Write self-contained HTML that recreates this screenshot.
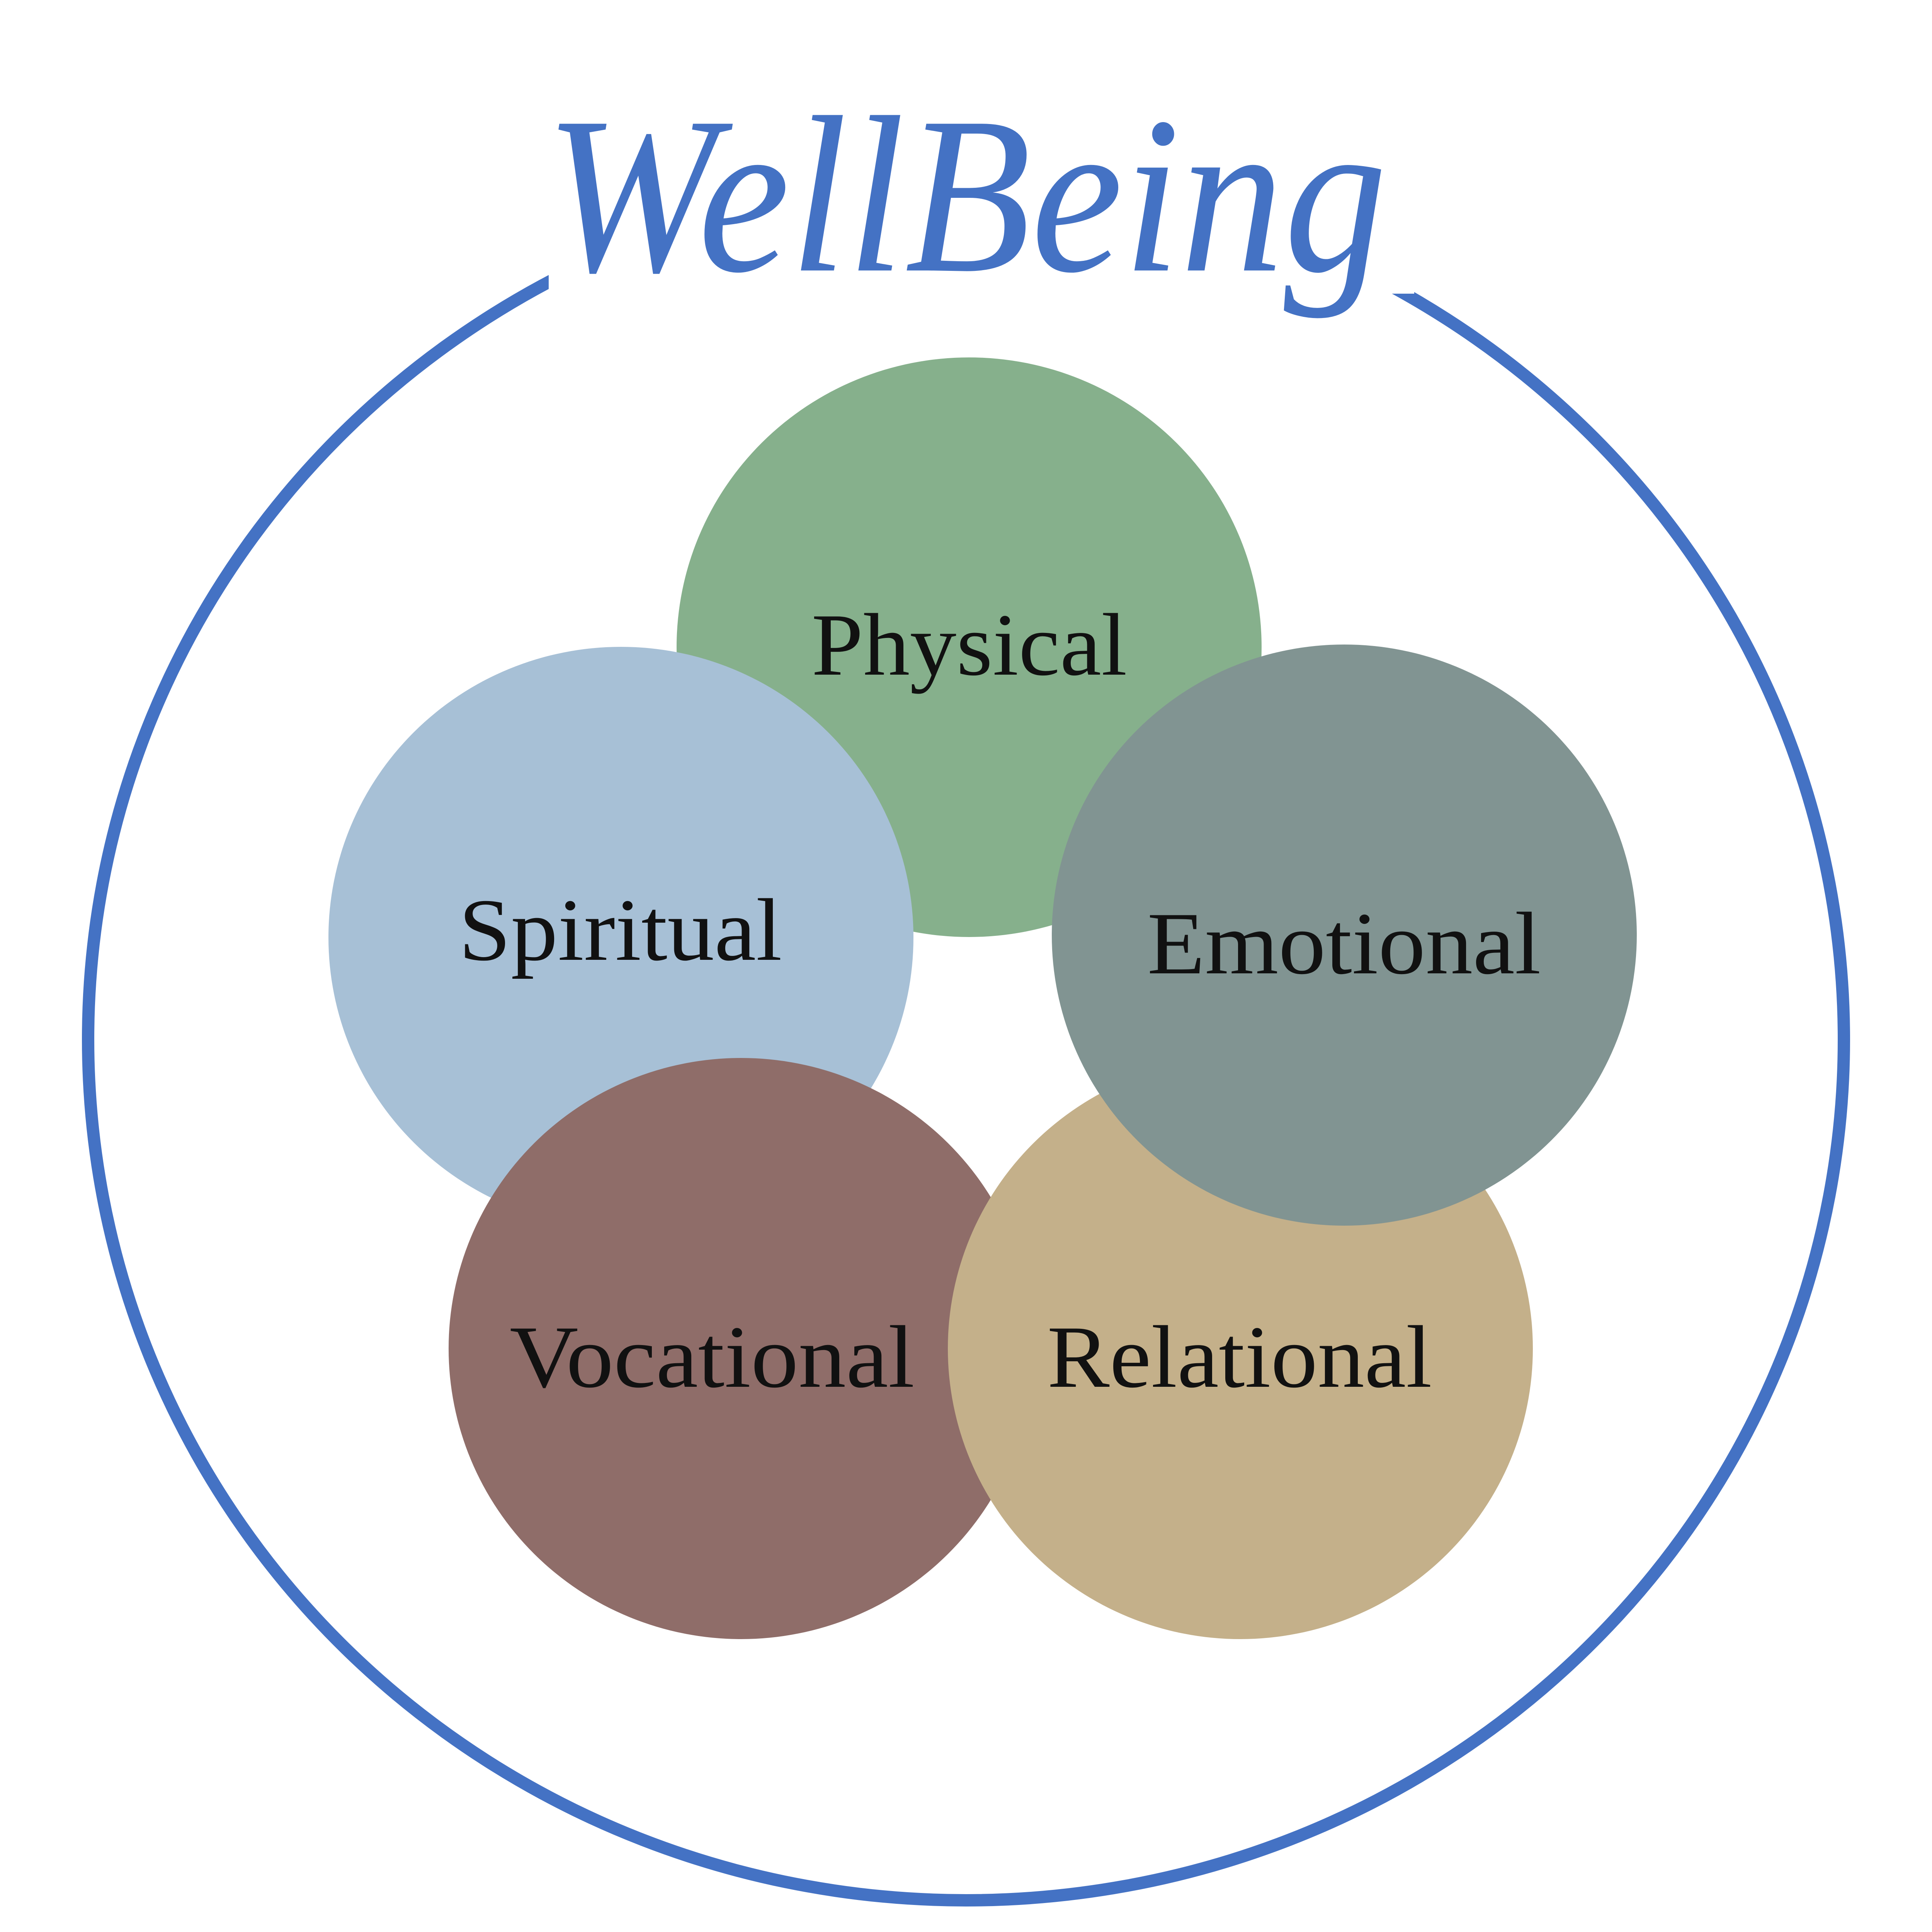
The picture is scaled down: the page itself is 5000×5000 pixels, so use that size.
<!DOCTYPE html>
<html><head><meta charset="utf-8"><style>html,body{margin:0;padding:0;background:#fff}svg{display:block}</style></head>
<body>
<svg width="5000" height="5000" viewBox="0 0 5000 5000" xmlns="http://www.w3.org/2000/svg">
<rect width="5000" height="5000" fill="#fff"/>
<ellipse cx="2500" cy="2690" rx="2272" ry="2228" fill="none" stroke="#4472C4" stroke-width="32"/>
<rect x="1420" y="200" width="2240" height="560" fill="#fff"/>
<ellipse cx="2508" cy="1675" rx="757" ry="750" fill="#86B08C"/>
<ellipse cx="1607" cy="2426" rx="757" ry="752" fill="#A7C0D6"/>
<ellipse cx="1918" cy="3490" rx="757" ry="752" fill="#8F6D69"/>
<ellipse cx="3210" cy="3490" rx="757" ry="752" fill="#C4B08A"/>
<ellipse cx="3479" cy="2420" rx="757" ry="752" fill="#819492"/>
<g font-family="'Liberation Serif', serif" font-size="230" fill="#111">
<text x="2100" y="1746" textLength="817" lengthAdjust="spacingAndGlyphs">Physical</text>
<text x="1187" y="2484" textLength="837" lengthAdjust="spacingAndGlyphs">Spiritual</text>
<text x="2969" y="2519" textLength="1019" lengthAdjust="spacingAndGlyphs">Emotional</text>
<text x="1319" y="3589" textLength="1048" lengthAdjust="spacingAndGlyphs">Vocational</text>
<text x="2710" y="3589" textLength="996" lengthAdjust="spacingAndGlyphs">Relational</text>
</g>
<text x="1410" y="700" font-family="'Liberation Serif', serif" font-style="italic" font-size="580" fill="#4472C4" textLength="2180" lengthAdjust="spacingAndGlyphs">WellBeing</text>
</svg>
</body></html>
